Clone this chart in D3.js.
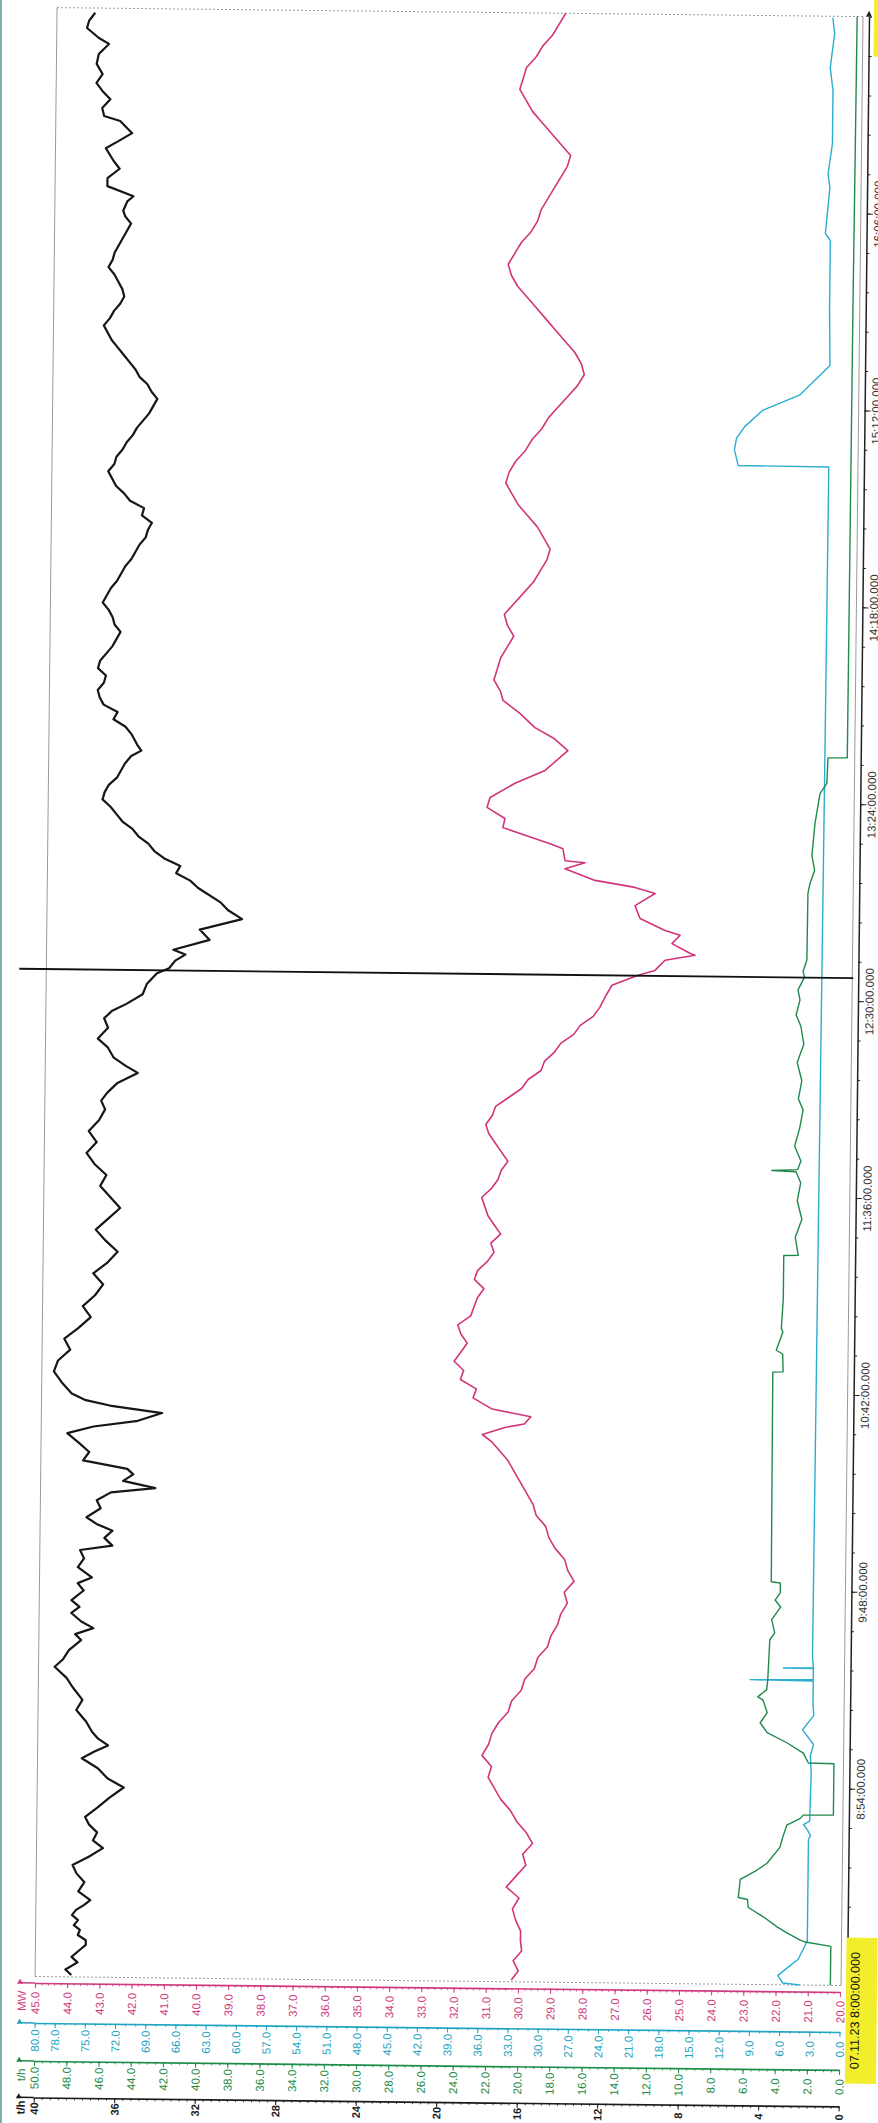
<!DOCTYPE html>
<html><head><meta charset="utf-8">
<script src="https://cdn.jsdelivr.net/npm/d3@7"></script>
<style>html,body{margin:0;padding:0;background:#fff;}svg{display:block;}</style>
</head><body>
<svg id="c" width="878" height="2123"></svg>
<script>
// ---------- data ----------
const startLabel = "07.11.23 8:00:00.000";
const spanMinutes = 540;            // 8:00 -> 17:00
const timeTicks = ["8:54","9:48","10:42","11:36","12:30","13:24","14:18","15:12","16:06"];
const cursorMinute = 276.3;          // cursor line (~12:36)

const mwTicks = [45,44,43,42,41,40,39,38,37,36,35,34,33,32,31,30,29,28,27,26,25,24,23,22,21,20];
const cyanTicks = [80,78,75,72,69,66,63,60,57,54,51,48,45,42,39,36,33,30,27,24,21,18,15,12,9,6,3,0];
const greenTicks = [50,48,46,44,42,40,38,36,34,32,30,28,26,24,22,20,18,16,14,12,10,8,6,4,2,0];
const blackTicks = [40,36,32,28,24,20,16,12,8,4,0];

// black series (t/h) : minutes after 8:00, value
const blackMin = [0.5,2,4,5.5,7.4,8.8,10.1,11.5,12.9,14.2,15.6,17,18.4,19.8,21.1,23.5,26,28.4,30.7,33,35.4,37.5,39.7,41.8,43.9,46.5,49.3,52.1,54.5,57.3,60,61.8,63.6,65.4,67.2,70,73.2,76,79.5,82,85,87,89.6,92.4,94,95.7,97.5,99.8,101.5,103.3,106,108,109.6,112.4,114.8,117.1,118.4,120.5,122.5,124.3,126.1,128.6,130.8,133,134.3,136.2,138,139.5,141.7,144,146.4,149.1,151,152.7,154.9,156.8,158.2,
160,163,166,169,172,175,178,181,184,187,190,193,196,199,202,205,208,211,214,217,220,223,226,229,232,235,238,
240.4,242.6,245.3,248.1,250,252.2,255,257.4,260.4,263,265.1,267,269.7,272.5,275.5,276.9,279,280.7,282,284.8,287.6,290.6,293,295.2,
299,301,303,305,307,309,311,313,315,317,319,321,323,325,327,329,331,333,335,336.5,338,341,343,345,347,349,351,353,355,357,359,361,363,365,367,369,371,373,375,377,379,381,383,385,387,389,391,393,395,397,399,401,403,405,407,409,411,413,415,417,419,421,423,425,427,429,431,433,435,437,439,441,443,445,447,449,451,453,455,457,459,461,463,465,467,469,471,473,475,477,479,481,483,484.5,
487.1,488.5,491.2,493.4,496,498.1,501.6,503.5,505.8,509.1,510.4,512.6,515,517.3,519.5,521.9,524.7,527.4,530.2,531.8,534.5,536.5,538.7];
const blackVal = [38.2,38.5,37.9,38.2,37.8,37.5,37.5,37.9,37.8,38.1,37.9,38.2,38.0,37.6,37.3,37.9,37.6,38.0,38.2,37.4,36.7,37.2,37.0,37.4,37.6,37.0,36.4,35.7,36.5,37.0,37.8,37.2,36.5,37.0,37.3,37.6,38.1,37.8,38.3,38.6,39.2,38.8,38.5,37.9,38.2,37.3,37.9,38.4,38.0,38.4,37.8,38.1,37.4,38.1,37.8,38.0,36.4,36.8,36.4,37.2,37.7,37.0,37.2,36.5,34.3,35.9,35.4,35.7,37.9,37.6,38.1,38.7,37.4,35.2,34.0,36.6,37.8,
38.5,39.0,39.4,39.2,38.6,38.9,38.2,37.6,38.0,37.4,37.0,37.5,36.8,36.3,36.9,37.4,36.8,36.2,36.7,37.2,36.9,37.5,37.9,37.4,37.8,37.3,37.0,
37.2,36.9,36.4,35.4,36.0,36.6,36.9,37.4,36.9,37.1,36.7,36.0,35.2,35.0,34.5,33.9,33.6,33.1,33.7,31.9,32.4,30.3,31.0,31.4,
32.5,32.9,33.6,33.4,34.2,34.7,35.0,35.5,35.8,36.3,36.6,36.9,37.3,37.2,37.0,36.6,36.4,36.2,35.9,35.4,35.6,35.9,36.2,36.8,36.6,37.3,37.5,37.6,37.3,37.2,37.6,37.5,37.2,36.9,36.7,36.5,36.8,36.9,37.1,37.4,37.2,37.0,36.7,36.5,36.3,36.0,35.8,35.6,35.3,35.2,35.0,35.5,35.4,36.1,36.4,36.8,37.0,37.2,36.9,36.8,36.5,36.3,36.0,35.8,35.5,35.2,35.0,34.8,35.1,35.3,35.7,35.9,36.2,36.5,36.8,37.1,37.3,37.5,37.2,37.0,36.7,36.5,36.6,36.8,37.0,37.3,37.1,37.0,36.8,36.6,36.4,36.2,36.5,36.6,
36.4,36.1,37.4,37.4,36.8,37.1,37.5,36.9,36.2,36.8,37.6,37.7,37.3,37.7,38.0,37.7,38.0,37.9,37.4,37.9,38.5,38.4,38.1];

// magenta series (MW)
const mwMin = [0.5,3,5.8,8.5,11.3,14,17,20,23,26,29,32,35,38,41,44,47,50,53,56,59,62,65,68,71,74,77,80,83,86,89,92,95,98,101,104,107,110,113,116,119,122,125,128,131,134,137,140,143,146,148,150,152,153,155,157,160,162.5,165,167.5,170,172.5,175,177.5,180,182.5,185,187.5,190,192.5,195,197.5,200,202.5,205,207.5,210,212.5,215,217.5,220,222.5,225,227.5,230,232.5,235,237.5,240,242.5,245,247.5,250,252.5,255,257.5,260,262.5,265,267.5,
270.3,273.6,276.4,277.8,280.6,282.1,282.6,285.2,287.5,288.8,292,295.5,298.9,300.5,302.3,305.4,307.1,307.6,310.9,312.2,316.5,319,322,324.7,328.7,332.3,337.8,341,344,348,351.4,
354,357,360,363,366,369,372,375,378,381,384,387,390,393,396,399,402,405,408,411,414,417,420,423,426,429,432,435,438,441,444,447,450,453,456,459,462,465,468,471,474,477,480,483,486,489,492,495,498,501,504,507,510,513,516,519,522,525,528,531,534,537,540];
const mwVal = [30.21,30.0,30.16,29.9,29.94,29.94,30.1,30.2,30.0,30.4,30.1,29.8,29.9,29.6,29.8,30.1,30.3,30.6,30.8,31.0,30.9,31.2,31.0,30.9,30.7,30.4,30.3,30.0,29.9,29.6,29.5,29.2,29.1,28.9,28.8,28.6,28.7,28.4,28.6,28.7,29.0,29.2,29.3,29.6,29.7,29.9,30.1,30.3,30.5,30.8,31.0,31.3,30.6,30.0,29.8,31.0,31.6,31.5,32.0,31.9,32.2,32.0,31.8,32.0,32.1,31.7,31.6,31.5,31.3,31.6,31.5,31.2,31.0,31.1,30.8,31.0,31.2,31.3,31.4,31.1,30.9,30.8,30.6,30.8,31.0,31.2,31.3,31.1,31.0,30.6,30.2,30.0,29.6,29.5,29.2,29.0,28.6,28.4,28.0,27.8,
27.64,27.43,26.62,26.10,25.79,24.86,25.02,25.58,25.33,25.80,26.58,26.74,26.12,26.75,27.99,28.93,28.31,28.93,29.0,29.40,30.87,30.81,31.37,31.28,30.51,29.58,28.88,29.3,29.91,30.4,30.91,
31.0,31.2,31.1,31.0,30.8,30.6,30.8,30.9,30.6,30.3,30.0,29.8,29.6,29.5,29.7,29.9,30.2,30.5,30.7,30.9,30.8,30.6,30.3,30.1,29.8,29.6,29.3,29.0,28.7,28.5,28.6,28.8,29.1,29.4,29.7,30.0,30.3,30.6,30.8,30.9,30.7,30.5,30.2,30.0,29.9,29.7,29.5,29.3,29.1,29.0,29.3,29.6,29.9,30.2,30.4,30.6,30.5,30.4,30.1,29.9,29.6,29.4,29.2];

// green series (t/h)
const greenMin = [0,10.7,11.8,12.3,14.2,15.8,18.6,21.1,23.3,23.8,28.8,31.4,33.3,37.7,40.5,43.8,45.7,46.6,46.7,60.8,60.9,63.6,66.4,69.1,71.8,74.6,78.1,78.9,80.9,83.6,94.6,96.5,100.1,103.6,105.5,107.5,110.2,110.5,168,168.1,173,174,179,180,188,
200,200.1,205,210,215,220,223,223.3,223.6,226,230,235,240,243,248,253,258,263,266,270.1,272.9,276.4,278,281.1,299.4,302.1,305.7,309.8,318.6,326.8,329.6,336.6,336.7,400,460,540];
const greenVal = [0.6,0.6,2.19,2.50,3.31,3.93,4.81,5.75,5.81,6.38,6.27,5.23,4.62,3.83,3.66,3.42,2.58,2.40,0.53,0.53,2.12,2.44,3.47,4.70,5.14,4.71,4.99,5.31,4.76,4.70,4.60,4.30,4.50,3.95,4.30,3.98,3.99,4.55,4.60,3.96,4.0,4.4,4.0,4.1,4.0,
4.0,3.1,3.3,2.9,3.2,3.0,3.3,4.8,3.2,3.0,3.4,3.1,2.9,3.2,3.0,3.3,2.9,3.1,3.4,3.17,3.30,2.90,3.0,2.77,2.75,2.63,2.35,2.53,2.36,2.07,1.65,1.60,0.40,0.38,0.36,0.30];

// cyan series
const cyanMin = [0,0.5,2.5,5.5,7,11,12,40,41,42.5,44,45,58,63,66,70,74,77,83.4,83.6,83.8,86.8,86.9,87,90,200,300,416.4,416.5,420.8,424,427.2,431.8,436,440.9,444.2,460,478.5,480.4,493,496.8,505,519.6,525.9,535.2,539.6];
const cyanVal = [4.0,5.7,6.2,4.9,4.2,3.5,3.3,3.3,3.1,3.4,3.8,3.2,3.1,3.2,2.9,4.0,2.9,3.0,3.0,9.26,3.0,3.0,5.99,3.0,3.1,3.0,2.9,2.8,11.8,12.2,12.0,11.2,9.4,5.8,4.0,2.8,2.9,2.9,3.4,3.0,3.2,2.8,2.8,3.1,2.7,2.9];

// ---------- drawing ----------
const svg = d3.select("#c");
svg.append("rect").attr("x",0).attr("y",0).attr("width",878).attr("height",2123).attr("fill","#fff");
svg.append("rect").attr("x",0).attr("y",0).attr("width",2).attr("height",2123).attr("fill","#7fb0b0");

const g = svg.append("g").attr("transform","rotate(0.64,445,1000)");
const L = 46, R = 851, T = 12, B = 1981;
const base = new Date(2023,10,7,8,0,0);
const toDate = m => new Date(base.getTime() + m*60000);
const parseHM = s => { const [h,m] = s.split(":").map(Number); return toDate((h-8)*60+m); };

const y = d3.scaleTime().domain([toDate(0), toDate(spanMinutes)]).range([B, T]);
const xMW = d3.scaleLinear().domain([45,20]).range([L,R]);
const xCy = d3.scaleLinear().domain([80,0]).range([L,R]);
const xGr = d3.scaleLinear().domain([50,0]).range([L,R]);
const xBk = d3.scaleLinear().domain([40,0]).range([L,R]);

const font = "'Liberation Sans', Arial, sans-serif";

// plot frame
g.append("line").attr("x1",L).attr("x2",L).attr("y1",T).attr("y2",B).attr("stroke","#9a9a9a").attr("stroke-width",1);
g.append("line").attr("x1",R+1).attr("x2",R+1).attr("y1",T).attr("y2",B).attr("stroke","#9a9a9a").attr("stroke-width",1);
g.append("line").attr("x1",L).attr("x2",R+1).attr("y1",T).attr("y2",T).attr("stroke","#9a9a9a").attr("stroke-dasharray","2,2");
g.append("line").attr("x1",L).attr("x2",R+1).attr("y1",B).attr("y2",B).attr("stroke","#9a9a9a").attr("stroke-dasharray","2,2");

// series
function drawSeries(mins, vals, xs, color, w) {
  const pts = mins.map((m,i)=>[toDate(m), vals[i]]);
  g.append("path").datum(pts)
    .attr("fill","none").attr("stroke",color).attr("stroke-width",w).attr("stroke-linejoin","round")
    .attr("d", d3.line().x(d=>xs(d[1])).y(d=>y(d[0])));
}
drawSeries(cyanMin, cyanVal, xCy, "#2badd0", 1.4);
drawSeries(greenMin, greenVal, xGr, "#1f8a4c", 1.4);
drawSeries(mwMin, mwVal, xMW, "#d2347c", 1.6);
drawSeries(blackMin, blackVal, xBk, "#161616", 2.2);

// cursor
g.append("line").attr("x1",19).attr("x2",R+2)
  .attr("y1",y(toDate(cursorMinute))).attr("y2",y(toDate(cursorMinute)))
  .attr("stroke","#111").attr("stroke-width",1.8);

// value axes
function valueAxis(scale, ticks, minorStep, yPos, color, fmt, labelOff, weight, fs, title, titleOff) {
  const ax = g.append("g").attr("transform",`translate(0,${yPos})`);
  const dom = scale.domain();
  const lo = Math.min(dom[0],dom[1]), hi = Math.max(dom[0],dom[1]);
  const n = Math.round((hi-lo)/minorStep);
  const minor = d3.range(0,n+1).map(i=>lo+i*minorStep);
  const mi = ax.append("g").call(d3.axisBottom(scale).tickValues(minor).tickSize(2.5).tickSizeOuter(0).tickFormat(""));
  mi.select(".domain").remove();
  mi.selectAll("line").attr("stroke",color).attr("stroke-width",0.8);
  const ma = ax.append("g").call(d3.axisBottom(scale).tickValues(ticks).tickSize(5).tickSizeOuter(0).tickFormat(fmt));
  ma.select(".domain").attr("stroke",color).attr("stroke-width",1.7);
  ma.selectAll(".tick line").attr("stroke",color).attr("stroke-width",1);
  ma.selectAll(".tick text")
    .attr("fill",color).attr("transform","rotate(-90)")
    .attr("x",-labelOff).attr("y",0).attr("dy","0.35em").attr("text-anchor","middle")
    .style("font-family",font).style("font-size",fs).style("font-weight",weight);
  ax.append("line").attr("x1",L-14).attr("x2",L).attr("y1",0).attr("y2",0).attr("stroke",color).attr("stroke-width",1.5);
  ax.append("path").attr("d",`M${L-15},-4 L${L-12},1 L${L-18},1 Z`).attr("fill",color);
  if (title) {
    ax.append("text").attr("transform",`translate(${L-13},${titleOff}) rotate(-90)`)
      .attr("text-anchor","middle").attr("dy","0.35em").attr("fill",color)
      .style("font-family",font).style("font-size","11.5px").style("font-weight",weight).text(title);
  }
}
valueAxis(xMW, mwTicks, 0.2, 1987.5, "#cf3a7e", d3.format(".1f"), 20, "normal", "11.5px", "MW", 18);
valueAxis(xCy, cyanTicks, 1, 2027.5, "#1fa5c2", d3.format(".1f"), 17.5, "normal", "11.5px", null, 0);
valueAxis(xGr, greenTicks, 0.5, 2065.5, "#1e8c48", d3.format(".1f"), 17, "normal", "11.5px", "t/h", 14);
valueAxis(xBk, blackTicks, 0.4, 2102, "#1a1a1a", d3.format("d"), 11, "bold", "11px", "t/h", 10);

// time axis
const tX = 858;
const tAx = g.append("g").attr("transform",`translate(${tX},0)`);
const minorT = d3.range(0, 51).map(i=>toDate(i*10.8));
const tmi = tAx.append("g").call(d3.axisRight(y).tickValues(minorT).tickSize(3).tickSizeOuter(0).tickFormat(""));
tmi.select(".domain").remove();
tmi.selectAll("line").attr("stroke","#222");
const tma = tAx.append("g").call(d3.axisRight(y).tickValues(timeTicks.map(parseHM)).tickSize(6).tickSizeOuter(0).tickFormat(d3.timeFormat("%-H:%M:%S.000")));
tma.select(".domain").attr("stroke","#222").attr("stroke-width",1.5);
tma.selectAll(".tick line").attr("stroke","#222");
tma.selectAll(".tick text")
  .attr("fill","#333").attr("transform","rotate(-90)")
  .attr("x",0).attr("y",11.5).attr("dy","0.35em").attr("text-anchor","middle")
  .style("font-family",font).style("font-size","11.5px");
tAx.append("line").attr("x1",0).attr("x2",0).attr("y1",B).attr("y2",B+3).attr("stroke","#222").attr("stroke-width",1.5);
tAx.append("path").attr("d",`M0,${T-6} L-3,${T} L3,${T} Z`).attr("fill","#222");

// highlighted start label, and the edge of the (off-page) end label
g.append("rect").attr("x",857).attr("y",1933).attr("width",31).attr("height",146).attr("fill","#f3ee2c");
g.append("text").attr("transform",`translate(866,2006) rotate(-90)`)
  .attr("text-anchor","middle").attr("dy","0.35em").attr("fill","#111")
  .style("font-family",font).style("font-size","12.5px").text(startLabel);
g.append("rect").attr("x",863).attr("y",-95).attr("width",31).attr("height",147).attr("fill","#f3ee2c");
</script>
</body></html>
